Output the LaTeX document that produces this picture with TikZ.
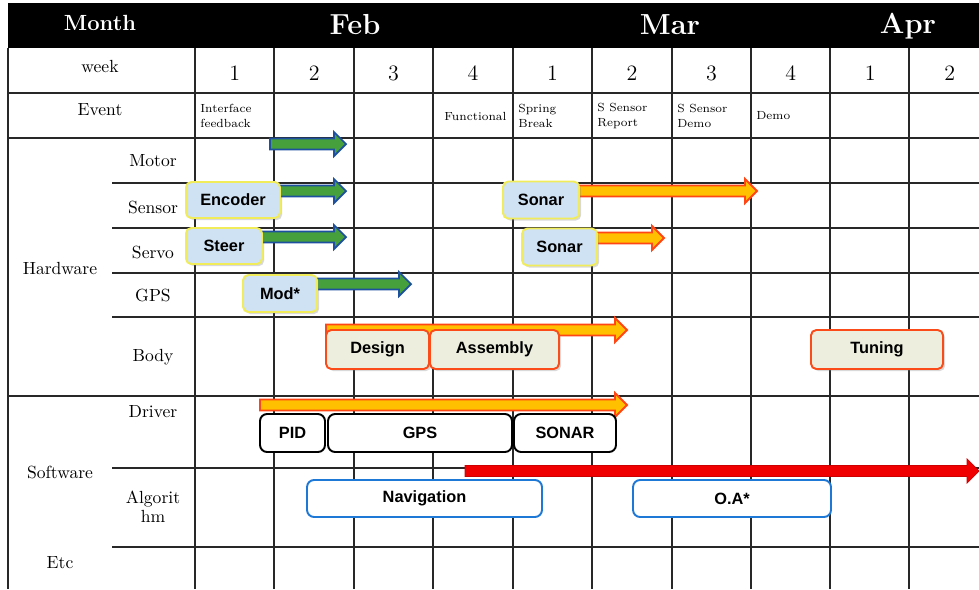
\documentclass[tikz,border=0pt]{standalone}
\usepackage{fontspec}
\usepackage{tikz}
\usetikzlibrary{shadows}
\newfontfamily\barfont{Liberation Sans}
\definecolor{gridgray}{RGB}{40,40,40}
\definecolor{hwfill}{RGB}{207,226,243}
\definecolor{hwedge}{RGB}{240,236,90}
\definecolor{bodyfill}{RGB}{237,238,222}
\definecolor{bodyedge}{RGB}{250,75,25}
\definecolor{algedge}{RGB}{30,120,214}
\definecolor{bargreen}{RGB}{70,160,60}
\definecolor{barblue}{RGB}{30,80,160}
\definecolor{baryellow}{RGB}{255,192,0}
\definecolor{barorange}{RGB}{255,70,20}
\definecolor{barred}{RGB}{240,0,0}

\tikzset{
  gridline/.style={gridgray, line width=1pt},
  headtext/.style={white, font=\bfseries\fontsize{12.5}{14}\selectfont},
  monthtext/.style={white, font=\bfseries\fontsize{16.5}{18}\selectfont},
  weeknum/.style={font=\fontsize{12.5}{14}\selectfont},
  rowlabel/.style={align=center, font=\fontsize{10}{11}\selectfont},
  evtext/.style={anchor=west, align=left, inner sep=0pt, font=\fontsize{6.7}{9}\selectfont},
  taskbox/.style={rounded corners=3pt, line width=1.1pt, inner sep=0pt,
    font=\barfont\bfseries\fontsize{9.3}{10}\selectfont},
  hwbox/.style={taskbox, fill=hwfill, draw=hwedge,
    drop shadow={opacity=0.3, shadow xshift=1.2pt, shadow yshift=-1.2pt}},
  bodybox/.style={taskbox, fill=bodyfill, draw=bodyedge,
    drop shadow={opacity=0.3, shadow xshift=1.2pt, shadow yshift=-1.2pt}},
  drvbox/.style={taskbox, fill=white, draw=black, rounded corners=4pt},
  algbox/.style={taskbox, fill=white, draw=algedge, rounded corners=4pt},
  greenbar/.style={fill=bargreen, draw=barblue, line width=1pt},
  orangebar/.style={fill=baryellow, draw=barorange, line width=1.1pt},
  redbar/.style={fill=barred, draw=barred!85!black, line width=0.4pt}
}

% block arrow: style, start x, tip x, y
\newcommand{\ganttbar}[4]{%
  \filldraw[#1] (#2,#4-5.5) -- (#3-12,#4-5.5) -- (#3-12,#4-12) -- (#3,#4)
    -- (#3-12,#4+12) -- (#3-12,#4+5.5) -- (#2,#4+5.5) -- cycle;}

\begin{document}
\begin{tikzpicture}[x=0.02cm, y=-0.02cm]
\useasboundingbox (0,0) rectangle (979,589);

% Header band
\fill[black] (8,3) rectangle (979,48);
\node[headtext] (month) at (100,23) {Month};
\node[monthtext] (feb) at (355,25) {Feb};
\node[monthtext] (mar) at (670,25) {Mar};
\node[monthtext] (apr) at (908,26) {Apr};

% Grid
\foreach \x in {8,195,274,354,433,513,592,672,751,830,909}
  \draw[gridline] (\x,48) -- (\x,589);
\foreach \y in {93,138,396}
  \draw[gridline] (8,\y) -- (979,\y);
\foreach \y in {183,228,273,317,468,547}
  \draw[gridline] (112,\y) -- (979,\y);

% Week row
\node[rowlabel] (week) at (100,66) {week};
\foreach \n [count=\i from 0] in {1,2,3,4,1,2,3,4,1,2}
  \node[weeknum] (wk\i) at (234.7+79.45*\i,73) {\n};

% Event row
\node[rowlabel] (event) at (100,110) {Event};
\node[evtext] (ev1) at (200,116) {Interface\\feedback};
\node[evtext] (ev4) at (444,116) {Functional};
\node[evtext] (ev5) at (518,116) {Spring\\Break};
\node[evtext] (ev6) at (597,116) {S Sensor\\Report};
\node[evtext] (ev7) at (677,116) {S Sensor\\Demo};
\node[evtext] (ev8) at (756,116) {Demo};

% Row labels
\node[rowlabel] (hardware) at (60,268) {Hardware};
\node[rowlabel] (motor) at (153,161) {Motor};
\node[rowlabel] (sensor) at (153,207) {Sensor};
\node[rowlabel] (servo) at (153,252) {Servo};
\node[rowlabel] (gps) at (153,295) {GPS};
\node[rowlabel] (body) at (153,357) {Body};
\node[rowlabel] (software) at (60,472) {Software};
\node[rowlabel] (driver) at (153,412) {Driver};
\node[rowlabel] (algo) at (153,507) {Algorit\\hm};
\node[rowlabel] (etc) at (60,563) {Etc};

% Hardware bars
\ganttbar{greenbar}{270}{346}{144}
\ganttbar{greenbar}{270}{346}{191}
\ganttbar{greenbar}{255}{346}{237}
\ganttbar{greenbar}{310}{411}{284}
\ganttbar{orangebar}{575}{757}{191}
\ganttbar{orangebar}{592}{664}{238}
\ganttbar{orangebar}{326}{627}{330}

% Software bars
\ganttbar{orangebar}{260}{627}{405}
\ganttbar{redbar}{465}{979}{471}

% Hardware boxes
\node[hwbox, minimum width=1.88cm, minimum height=0.72cm] (encoder) at (233,200) {Encoder};
\node[hwbox, minimum width=1.52cm, minimum height=0.72cm] (steer) at (224,246) {Steer};
\node[hwbox, minimum width=1.48cm, minimum height=0.74cm] (mod) at (280,293.5) {Mod*};
\node[hwbox, minimum width=1.52cm, minimum height=0.74cm] (sonarA) at (541,200) {Sonar};
\node[hwbox, minimum width=1.50cm, minimum height=0.74cm] (sonarB) at (559.5,247) {Sonar};

% Body boxes
\node[bodybox, minimum width=2.06cm, minimum height=0.78cm] (design) at (377.5,349.5) {Design};
\node[bodybox, minimum width=2.58cm, minimum height=0.78cm] (assembly) at (494.5,349.5) {Assembly};
\node[bodybox, minimum width=2.64cm, minimum height=0.78cm] (tuning) at (877,349.5) {Tuning};

% Driver boxes
\node[drvbox, minimum width=1.30cm, minimum height=0.76cm] (pid) at (292.5,433) {PID};
\node[drvbox, minimum width=3.68cm, minimum height=0.76cm] (gpsdrv) at (420,433) {GPS};
\node[drvbox, minimum width=2.04cm, minimum height=0.76cm] (sonardrv) at (565,433) {SONAR};

% Algorithm boxes
\node[algbox, minimum width=4.70cm, minimum height=0.74cm] (nav) at (424.5,498.5) {Navigation};
\node[algbox, minimum width=3.96cm, minimum height=0.74cm] (oa) at (732,498.5) {O.A*};
\end{tikzpicture}
\end{document}
